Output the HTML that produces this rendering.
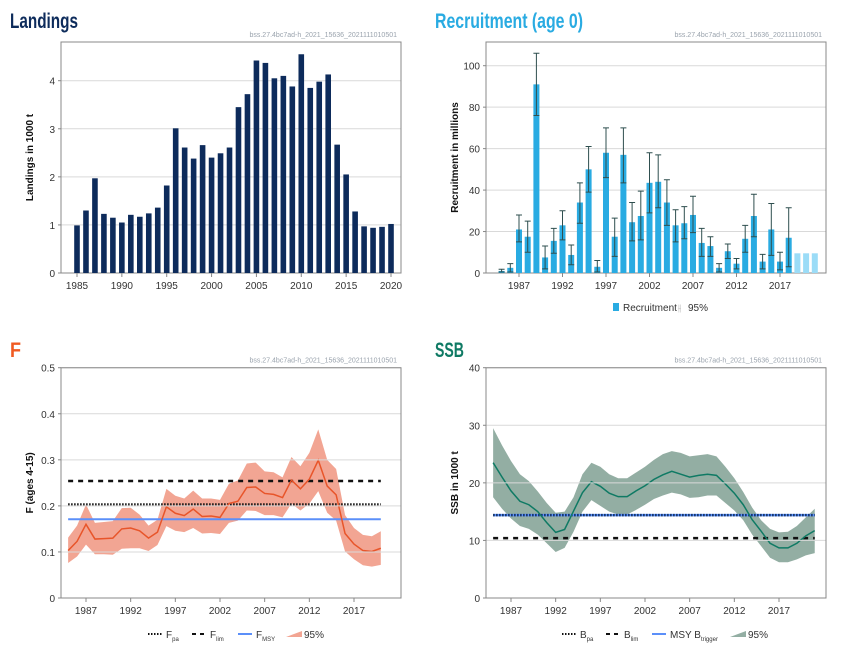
<!DOCTYPE html>
<html><head><meta charset="utf-8">
<style>
body{margin:0;background:#fff;width:850px;height:650px;overflow:hidden;font-family:"Liberation Sans",sans-serif;}
svg{position:absolute;left:0;top:0}
</style></head>
<body>
<svg id="s" width="850" height="650" xmlns="http://www.w3.org/2000/svg"></svg>
<script>
const landYears=[1985,1986,1987,1988,1989,1990,1991,1992,1993,1994,1995,1996,1997,1998,1999,2000,2001,2002,2003,2004,2005,2006,2007,2008,2009,2010,2011,2012,2013,2014,2015,2016,2017,2018,2019,2020];
const landVals=[0.99,1.30,1.97,1.23,1.15,1.05,1.21,1.17,1.24,1.36,1.82,3.01,2.61,2.38,2.66,2.40,2.49,2.61,3.45,3.72,4.42,4.37,4.05,4.10,3.88,4.55,3.85,3.98,4.13,2.67,2.05,1.28,0.97,0.94,0.96,1.02];
const landTicks=[0,1,2,3,4];
const landXTicks=[1985,1990,1995,2000,2005,2010,2015,2020];

const recYears=[1985,1986,1987,1988,1989,1990,1991,1992,1993,1994,1995,1996,1997,1998,1999,2000,2001,2002,2003,2004,2005,2006,2007,2008,2009,2010,2011,2012,2013,2014,2015,2016,2017,2018,2019,2020,2021];
const recVals=[1,2.5,21,17.5,91,7.5,15.5,23,8.7,34,50,3,58,17.5,57,24.5,27.5,43.5,44,34,23,24,28,14.5,13,2.5,10.5,4.5,16.5,27.5,5.5,21,5.5,17,9.5,9.5,9.5];
const recLow=[0.5,0.5,15,10,76,2,9.5,16,4,24,39,0.5,46,8,43.5,15.5,16,29,31.5,23,15,16.5,19.5,8,8,0.5,7,2,10,17.5,2,8.5,1.5,3,null,null,null];
const recHigh=[1.8,4.5,28,25,106,13,21.5,30,13.5,43.5,61,6,70,26.5,70,34,39.5,58,57,45,30.5,32,37,21.5,17.5,4.5,14,7,23,38,9,33.5,10,31.5,null,null,null];
const recTicks=[0,20,40,60,80,100];
const recXTicks=[1987,1992,1997,2002,2007,2012,2017];

const fYears=landYears;
const fVals=[0.103,0.123,0.16,0.128,0.129,0.130,0.150,0.152,0.146,0.130,0.143,0.198,0.184,0.179,0.193,0.177,0.178,0.175,0.205,0.210,0.240,0.241,0.227,0.225,0.218,0.256,0.237,0.258,0.299,0.243,0.224,0.140,0.117,0.103,0.101,0.108];
const fHigh=[0.131,0.157,0.203,0.163,0.165,0.167,0.195,0.196,0.181,0.157,0.170,0.237,0.222,0.216,0.233,0.216,0.216,0.213,0.248,0.255,0.292,0.294,0.275,0.273,0.262,0.306,0.286,0.315,0.366,0.300,0.280,0.180,0.152,0.137,0.134,0.145];
const fLow=[0.076,0.090,0.116,0.095,0.095,0.094,0.107,0.108,0.108,0.102,0.115,0.156,0.146,0.143,0.152,0.140,0.141,0.139,0.163,0.168,0.190,0.189,0.180,0.180,0.175,0.205,0.190,0.205,0.232,0.185,0.168,0.101,0.084,0.071,0.068,0.072];
const fRefs=[0.203,0.254,0.171];
const fTicks=[0,0.1,0.2,0.3,0.4,0.5];

const ssbYears=recYears;
const ssbVals=[23.5,21,18.6,16.8,16.2,15,13.1,11.4,11.9,15.1,18.3,20.2,19.4,18.2,17.6,17.6,18.6,19.5,20.6,21.4,22.0,21.5,21.0,21.3,21.5,21.3,19.8,18.2,16.2,13.6,11.6,9.5,8.7,8.7,9.5,10.8,11.7];
const ssbHigh=[29.5,26.5,23.8,21.5,20.3,18.5,16.5,14.8,15.0,17.5,21.5,23.5,22.8,21.5,20.8,20.8,21.8,22.8,24.0,25.0,25.5,25.2,24.6,24.8,25.0,24.6,22.8,20.8,18.4,15.7,13.5,12.0,11.4,11.5,12.5,14.0,15.5];
const ssbLow=[17.5,15.5,13.8,12.5,12.0,11.0,9.5,8.0,8.7,11.5,15.0,17.0,16.0,15.0,14.5,14.5,15.3,16.2,17.2,17.8,18.3,18.0,17.4,17.5,17.8,17.8,16.5,15.2,13.5,11.0,9.0,7.0,6.2,6.2,6.7,7.4,7.8];
const ssbRefs=[14.4,10.4,14.4];
const ssbTicks=[0,10,20,30,40];

const S=document.getElementById('s');
const NS='http://www.w3.org/2000/svg';
function mk(tag,attrs,parent,txt){const e=document.createElementNS(NS,tag);for(const k in attrs)e.setAttribute(k,attrs[k]);if(txt!==undefined)e.textContent=txt;(parent||S).appendChild(e);return e;}
function lin(d0,d1,r0,r1){return v=>r0+(v-d0)/(d1-d0)*(r1-r0);}

function frame(g,x0,x1,y0,y1,yScale,ticks,fmt,xScale,xticks,ylabel){
  for(const t of ticks){
    const y=yScale(t);
    if(t!==0){const gl=mk('line',{x1:x0,x2:x1,y1:y,y2:y,stroke:'#d9d9d9','stroke-width':1},g);
    }
    const tl=mk('text',{x:x0-6,y:y+4,'text-anchor':'end','font-size':10,fill:'#333'},g,fmt(t));
    
    mk('line',{x1:x0-3,x2:x0,y1:y,y2:y,stroke:'#888'},g);
  }
  for(const t of xticks){
    const x=xScale(t);
    mk('line',{x1:x,x2:x,y1:y1,y2:y1+4,stroke:'#888'},g);
    const tl=mk('text',{x:x,y:y1+16,'text-anchor':'middle','font-size':10,fill:'#333'},g,String(t));
    
  }
  const b=mk('path',{d:`M${x0},${y0}H${x1}V${y1}H${x0}Z`,fill:'none',stroke:'#888','stroke-width':1},g);
  
  const yl=mk('text',{transform:`translate(${x0-28},${(y0+y1)/2}) rotate(-90)`,'text-anchor':'middle','font-size':10,'font-weight':'bold',fill:'#111'},g,ylabel);
  
  const w=mk('text',{x:x1-4,y:y0-5,'text-anchor':'end','font-size':7,fill:'#9aa3ad'},g,'bss.27.4bc7ad-h_2021_15636_2021111010501');
  
}
function title(x,txt,col,name,y,len){const t=mk('text',{x:x,y:y,'font-size':21,'font-weight':'bold',fill:col,textLength:len,lengthAdjust:'spacingAndGlyphs'},S,txt);
}

// Landings
title(10,'Landings','#0d2b5b','landings-title',28,68);
{const g=mk('g',{});
 const ys=lin(0,4,273,80.7), xs=lin(1985,2020,77,391);
 frame(g,61,401,42,273,ys,landTicks,String,xs,landXTicks,'Landings in 1000 t');
 landVals.forEach((v,i)=>{const r=mk('rect',{x:xs(landYears[i])-2.8,y:ys(v),width:5.6,height:273-ys(v),fill:'#0d2b5b'},g);
 });
}
// Recruitment
title(435,'Recruitment (age 0)','#29abe2','recruitment-title',28,148);
{const g=mk('g',{});
 const ys=lin(0,100,273,65.7), xs=lin(1987,2017,519,780);
 frame(g,486,826,42,273,ys,recTicks,String,xs,recXTicks,'Recruitment in millions');
 recVals.forEach((v,i)=>{const x=xs(recYears[i]);const r=mk('rect',{x:x-3,y:ys(v),width:6,height:273-ys(v),fill:recLow[i]===null?'#9bdcf7':'#29abe2'},g);
 
 if(recLow[i]!==null){const e=mk('path',{d:`M${x},${ys(recLow[i])}V${ys(recHigh[i])}M${x-3},${ys(recLow[i])}h6M${x-3},${ys(recHigh[i])}h6`,stroke:'#2f4f4f','stroke-width':1,fill:'none'},g);
 }});
 const lg=mk('g',{},g);
 mk('rect',{x:613,y:303,width:6,height:8,fill:'#29abe2'},lg);
 mk('text',{x:623,y:311,'font-size':10,fill:'#333'},lg,'Recruitment');
 mk('text',{x:678,y:311,'font-size':10,fill:'#bbb'},lg,'⫲');
 mk('text',{x:688,y:311,'font-size':10,fill:'#333'},lg,'95%');
}
function bandChart(g,xs,ys,years,vals,lo,hi,bandCol,lineCol){
 let d='M'+years.map((y,i)=>xs(y)+','+ys(hi[i])).join('L')+'L'+years.map((y,i)=>xs(y)+','+ys(lo[i])).reverse().join('L')+'Z';
 const b=mk('path',{d:d,fill:bandCol},g);
 return ()=>{const l=mk('path',{d:'M'+years.map((y,i)=>xs(y)+','+ys(vals[i])).join('L'),fill:'none',stroke:lineCol,'stroke-width':1.5},g);
 };
}
function legend(g,x,y,items){
 const lg=mk('g',{},g);
 let cx=x;
 for(const it of items){
  if(it.type==='band'){mk('path',{d:`M${cx},${y+3}L${cx+16},${y-3}V${y+3}Z`,fill:it.col},lg);}
  else mk('line',{x1:cx,x2:cx+14,y1:y,y2:y,stroke:it.col,'stroke-width':it.w,'stroke-dasharray':it.dash||''},lg);
  const t=mk('text',{x:cx+18,y:y+4,'font-size':10,fill:'#333'},lg);t.textContent=it.main;
  if(it.sub){const s=mk('tspan',{'font-size':6,dy:3},t);s.textContent=it.sub;}
  cx+=it.width;
 }
}
// F
title(10,'F','#f05a22','f-title',357,11);
{const g=mk('g',{});
 const ys=lin(0,0.5,598,367.7), xs=lin(1987,2017,86,354);
 const drawLine=bandChart(g,xs,ys,fYears,fVals,fLow,fHigh,'#f2a593','#e8552a');
 const x0=xs(1985),x1=xs(2020);
 const st=[['#111',2.5,'1.5 1.5','f-pa-line'],['#111',2.5,'5 5','f-lim-line'],['#5b8ff9',2,'','f-msy-line']];
 fRefs.forEach((v,i)=>{const l=mk('line',{x1:x0,x2:x1,y1:ys(v),y2:ys(v),stroke:st[i][0],'stroke-width':st[i][1],'stroke-dasharray':st[i][2]},g);
 });
 drawLine();
 frame(g,61,401,367.7,598,ys,fTicks,v=>v===0?'0':v.toFixed(1),xs,recXTicks,'F (ages 4-15)');
 legend(g,148,634,[{col:'#111',w:2,dash:'1.5 1.5',main:'F',sub:'pa',width:44},{col:'#111',w:2,dash:'4 4',main:'F',sub:'lim',width:46},{col:'#5b8ff9',w:2,main:'F',sub:'MSY',width:48},{type:'band',col:'#f2a593',main:'95%',width:40}]);
}
// SSB
title(435,'SSB','#0f7a64','ssb-title',357,29);
{const g=mk('g',{});
 const ys=lin(0,40,598,367.7), xs=lin(1987,2017,511,779);
 const drawLine=bandChart(g,xs,ys,ssbYears,ssbVals,ssbLow,ssbHigh,'#93aea3','#0f7a64');
 const x0=xs(1985),x1=xs(2021);
 const st=[['#5b8ff9',2.5,'','msy-btrigger-line'],['#0d2b5b',2.5,'1.5 1.5','b-pa-line'],['#111',2.5,'5 5','b-lim-line']];
 [ssbRefs[2],ssbRefs[0],ssbRefs[1]].forEach((v,i)=>{const l=mk('line',{x1:x0,x2:x1,y1:ys(v),y2:ys(v),stroke:st[i][0],'stroke-width':st[i][1],'stroke-dasharray':st[i][2]},g);
 });
 drawLine();
 frame(g,486,826,367.7,598,ys,ssbTicks,String,xs,recXTicks,'SSB in 1000 t');
 legend(g,562,634,[{col:'#111',w:2,dash:'1.5 1.5',main:'B',sub:'pa',width:44},{col:'#111',w:2,dash:'4 4',main:'B',sub:'lim',width:46},{col:'#5b8ff9',w:2,main:'MSY B',sub:'trigger',width:78},{type:'band',col:'#93aea3',main:'95%',width:40}]);
}
</script>
</body></html>
